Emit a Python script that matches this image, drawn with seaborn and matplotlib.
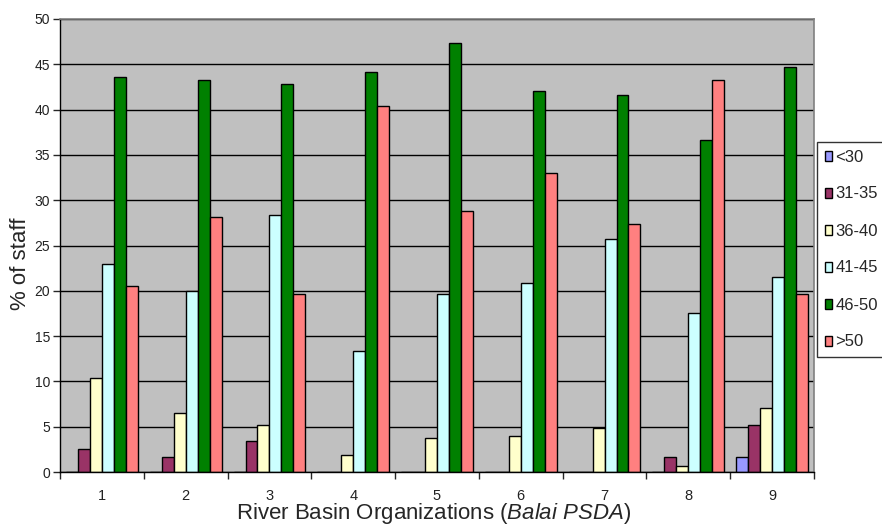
import numpy as np
import pandas as pd
import seaborn as sns
import matplotlib.pyplot as plt
from matplotlib.ticker import FixedLocator

# data
basins = ["1", "2", "3", "4", "5", "6", "7", "8", "9"]
age_groups = ["<30", "31-35", "36-40", "41-45", "46-50", ">50"]
lt30 = [0, 0, 0, 0, 0, 0, 0, 0, 1.7]
a31_35 = [2.5, 1.7, 3.4, 0, 0, 0, 0, 1.7, 5.2]
a36_40 = [10.4, 6.5, 5.2, 1.9, 3.8, 4.0, 4.9, 0.7, 7.1]
a41_45 = [23.0, 20.0, 28.4, 13.4, 19.7, 20.9, 25.7, 17.5, 21.5]
a46_50 = [43.6, 43.3, 42.8, 44.1, 47.4, 42.0, 41.6, 36.6, 44.7]
gt50 = [20.5, 28.2, 19.7, 40.4, 28.8, 33.0, 27.4, 43.3, 19.7]
colors = ["#9999FF", "#993366", "#FFFFCC", "#CCFFFF", "#008000", "#FF8080"]

series = [lt30, a31_35, a36_40, a41_45, a46_50, gt50]
df = pd.DataFrame({
    "basin": np.tile(basins, len(age_groups)),
    "age": np.repeat(age_groups, len(basins)),
    "pct": np.concatenate(series),
})

sns.set_style("white")
plt.rcParams["font.family"] = ["Liberation Sans", "DejaVu Sans"]
plt.rcParams["mathtext.fontset"] = "custom"
plt.rcParams["mathtext.rm"] = "Liberation Sans"
plt.rcParams["mathtext.it"] = "Liberation Sans:italic"

fig = plt.figure(figsize=(8.82, 5.31), dpi=100)
ax = fig.add_axes([60 / 882, 59 / 531, 754 / 882, 453 / 531])
ax.set_facecolor("#C0C0C0")

sns.barplot(data=df, x="basin", y="pct", hue="age", order=basins,
            hue_order=age_groups, palette=colors, width=6 / 7,
            edgecolor="black", linewidth=1, saturation=1, ax=ax)

ax.set_ylim(0, 50)
ax.set_xlim(-0.5, 8.5)
ax.set_yticks(np.arange(0, 51, 5))
ax.yaxis.grid(True, color="black", linewidth=1)
ax.set_axisbelow(True)
ax.tick_params(axis="y", direction="out", length=5, width=1, labelsize=10,
               left=True, pad=2, labelcolor="#222222")
ax.tick_params(axis="x", which="major", length=0, labelsize=10.5, pad=12,
               labelcolor="#222222")
ax.xaxis.set_minor_locator(FixedLocator(np.arange(-0.5, 9, 1)))
ax.tick_params(axis="x", which="minor", direction="out", length=5, width=1,
               bottom=True)

for side in ["top", "right"]:
    ax.spines[side].set_color("#808080")
    ax.spines[side].set_linewidth(1.2)
for side in ["left", "bottom"]:
    ax.spines[side].set_color("black")
    ax.spines[side].set_linewidth(1)

ax.set_ylabel("% of staff", fontsize=16)
ax.yaxis.set_label_coords(-0.038, 0.46)
ax.set_xlabel(r"River Basin Organizations ($\it{Balai\ PSDA}$)", fontsize=16)
ax.xaxis.set_label_coords(0.496, -0.064)

ax.legend(loc="upper left", bbox_to_anchor=(817 / 882, 1 - 142 / 531),
          bbox_transform=fig.transFigure, frameon=True, fancybox=False,
          edgecolor="black", fontsize=12, handlelength=0.45, handleheight=0.55,
          handletextpad=0.2, labelspacing=1.32, borderpad=0.45,
          borderaxespad=0, title=None)

fig.savefig("out.png", dpi=100)
